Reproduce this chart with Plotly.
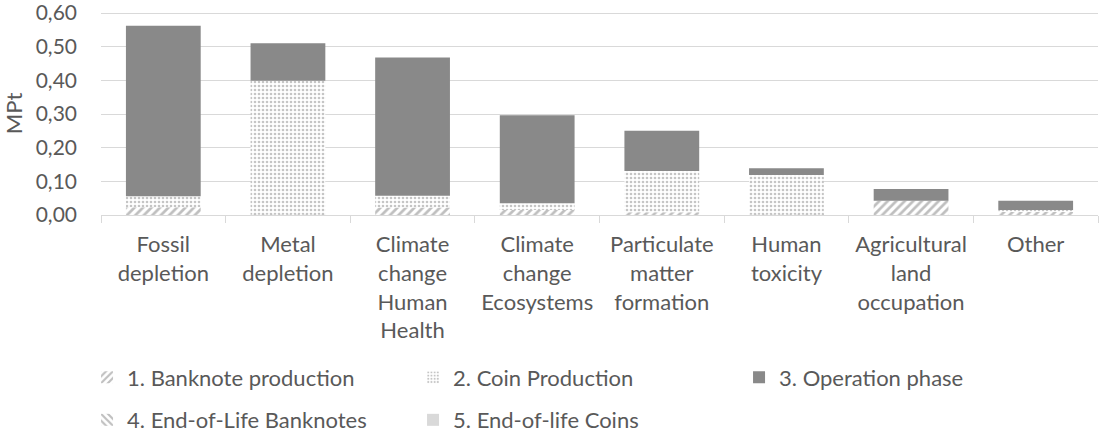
import plotly.graph_objects as go

categories = ["Fossil<br>depletion", "Metal<br>depletion", "Climate<br>change<br>Human<br>Health",
              "Climate<br>change<br>Ecosystems", "Particulate<br>matter<br>formation",
              "Human<br>toxicity", "Agricultural<br>land<br>occupation", "Other"]

banknote_production = [0.023, 0.001, 0.022, 0.015, 0.008, 0.001, 0.042, 0.010]
coin_production     = [0.033, 0.398, 0.035, 0.020, 0.123, 0.118, 0.000, 0.005]
operation_phase     = [0.506, 0.111, 0.411, 0.261, 0.119, 0.020, 0.035, 0.027]
eol_banknotes       = [0.000, 0.000, 0.000, 0.000, 0.000, 0.000, 0.000, 0.000]
eol_coins           = [0.000, 0.000, 0.000, 0.000, 0.000, 0.000, 0.000, 0.000]

y_ticks = [0.0, 0.1, 0.2, 0.3, 0.4, 0.5, 0.6]

FONT = "Lato"
FS = 22
TXT = "#595959"
GRID = "#d9d9d9"

fig = go.Figure()
fig.add_trace(go.Bar(x=categories, y=banknote_production, name="1. Banknote production",
                     marker=dict(color="white", line=dict(width=0),
                                 pattern=dict(shape="/", fgcolor="#7f7f7f", bgcolor="white",
                                              size=6, solidity=0.45)),
                     legend="legend"))
fig.add_trace(go.Bar(x=categories, y=coin_production, name="2. Coin Production",
                     marker=dict(color="white", line=dict(width=0),
                                 pattern=dict(shape=".", fgcolor="#8c8c8c", bgcolor="white",
                                              size=4, solidity=0.35)),
                     legend="legend"))
fig.add_trace(go.Bar(x=categories, y=operation_phase, name="3. Operation phase",
                     marker=dict(color="#898989", line=dict(width=0)),
                     legend="legend"))
fig.add_trace(go.Bar(x=categories, y=eol_banknotes, name="4. End-of-Life Banknotes",
                     marker=dict(color="white", line=dict(width=0),
                                 pattern=dict(shape="\\", fgcolor="#7f7f7f", bgcolor="white",
                                              size=6, solidity=0.45)),
                     legend="legend2"))
fig.add_trace(go.Bar(x=categories, y=eol_coins, name="5. End-of-life Coins",
                     marker=dict(color="#d9d9d9", line=dict(width=0)),
                     legend="legend2"))

legend_common = dict(orientation="h", x=-0.014, xanchor="left", yanchor="middle",
                     entrywidth=281, entrywidthmode="pixels", itemwidth=30,
                     font=dict(family=FONT, size=FS, color=TXT), bgcolor="rgba(0,0,0,0)",
                     traceorder="normal")

fig.update_layout(
    width=1104, height=435,
    barmode="relative", bargap=0.4,
    separators=", ",
    paper_bgcolor="white", plot_bgcolor="white",
    margin=dict(l=101, r=6, t=12, b=220, autoexpand=False),
    font=dict(family=FONT, size=FS, color=TXT),
    showlegend=True,
    legend=dict(legend_common, y=-0.80),
    legend2=dict(legend_common, y=-1.01),
)
fig.update_xaxes(showgrid=False, showline=True, linecolor=GRID, linewidth=1,
                 ticks="outside", tickson="boundaries", ticklen=7, tickcolor=GRID,
                 automargin=False, ticklabelstandoff=10,
                 tickfont=dict(family=FONT, size=FS, color=TXT))
fig.update_yaxes(range=[0, 0.603], tickvals=y_ticks, tickformat=".2f",
                 showgrid=True, gridcolor=GRID, gridwidth=1, zeroline=False,
                 showline=False, ticks="", ticklabelstandoff=23, automargin=False,
                 ticklabeloverflow="allow",
                 tickfont=dict(family=FONT, size=21, color=TXT),
                 title=dict(text="MPt", font=dict(family=FONT, size=FS, color=TXT), standoff=8))

fig.write_html("out.html",
               config={"displayModeBar": False},
               post_script="document.body.style.margin='0px';document.body.style.overflow='hidden';")
